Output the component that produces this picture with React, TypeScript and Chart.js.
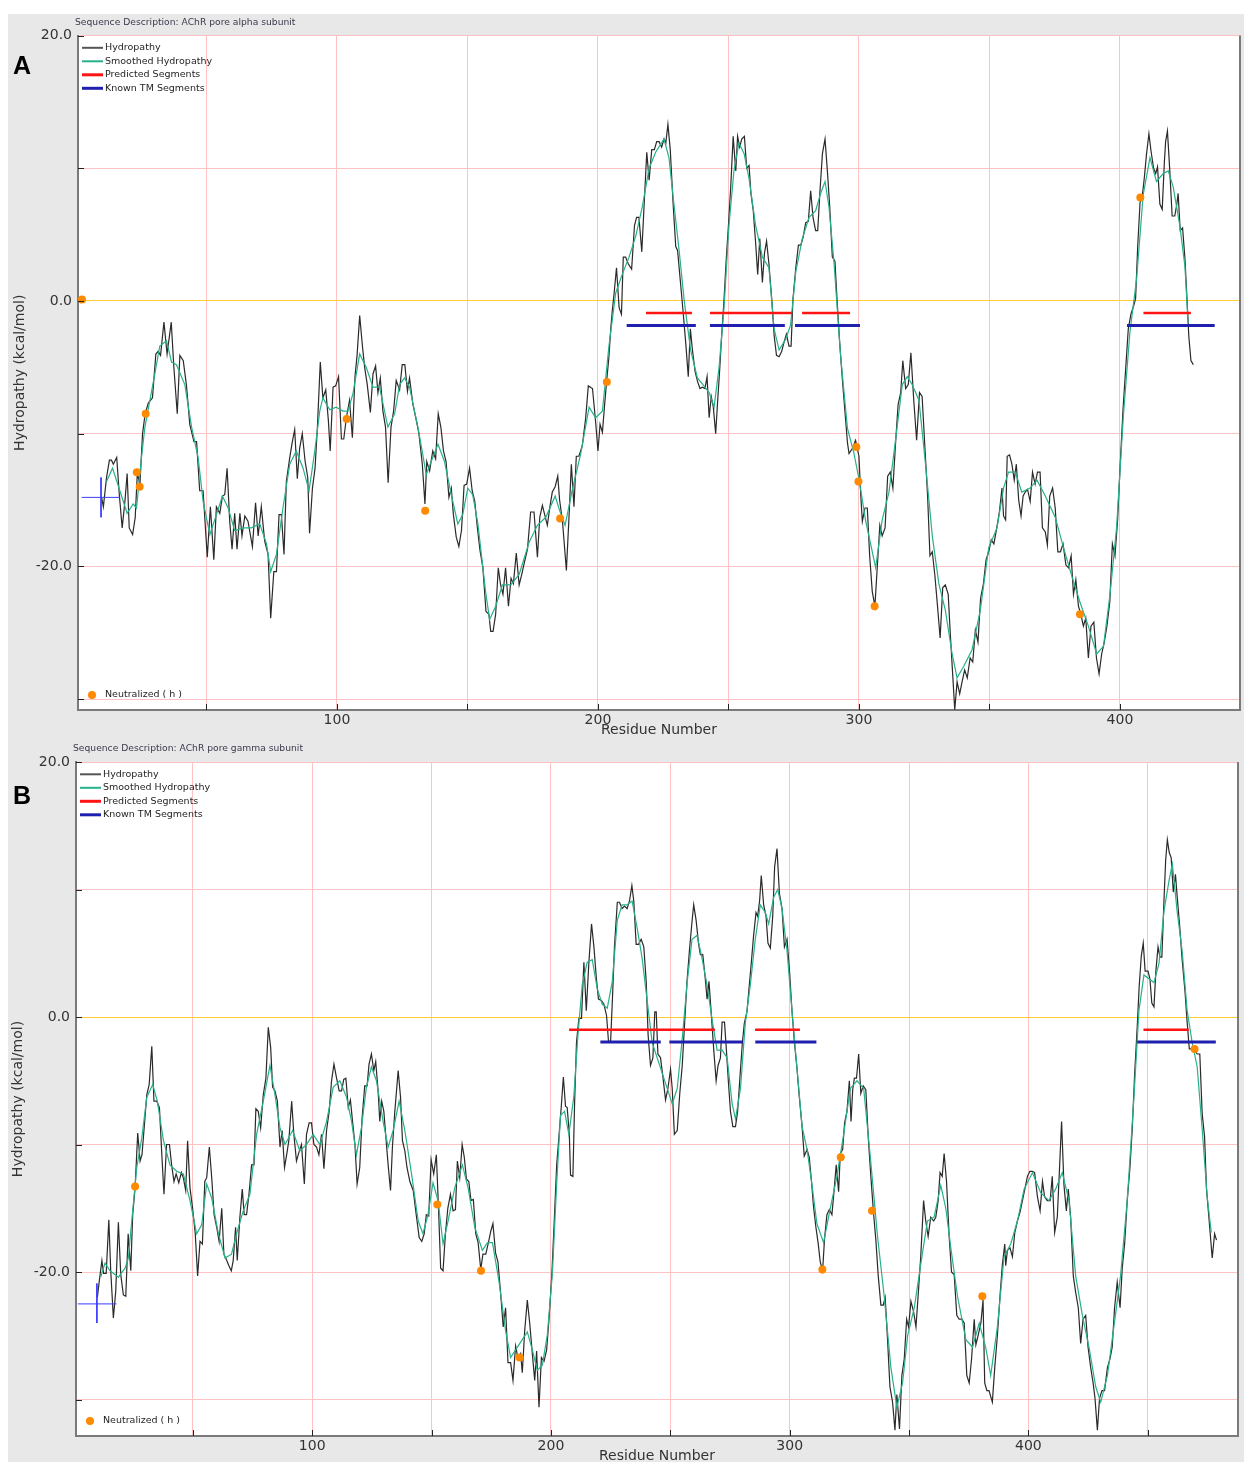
import React, { useEffect, useRef } from 'react';
import { Chart, registerables } from 'chart.js';

Chart.register(...registerables);

type Pt = [number, number];

// ---------------- Panel A: AChR pore alpha subunit ----------------
const ALPHA_HYDROPATHY: Pt[] = [
  [9.8,-14.8],[10.5,-15.5],[11.7,-13.3],[12.8,-12],[13.6,-12],[14.3,-12.3],[15.6,-11.8],[16.6,-14.6],[17.7,-17.1],[18.8,-15],
  [19.6,-13],[20.4,-17.1],[21.7,-17.6],[22.7,-16.3],[23.5,-13],[24.5,-13.8],[25.5,-10],[26.5,-8.5],[27.7,-7.7],[29.3,-7.3],
  [30.6,-4],[31.5,-3.8],[32.4,-4.1],[33.7,-1.6],[34.9,-4],[36.5,-1.6],[37.5,-5],[38.8,-8.5],[39.8,-4.1],[41.1,-4.5],
  [42.3,-6.3],[43.6,-9.3],[45.2,-10.6],[46.2,-10.6],[47.4,-14.3],[48.7,-14.3],[50.3,-19.3],[51.5,-15.5],[52.8,-19.5],[53.8,-15.5],
  [55.1,-16],[56.1,-14.7],[57,-14.6],[57.9,-12.6],[58.9,-16.6],[59.8,-18.7],[60.8,-16],[61.7,-18.7],[62.8,-16],[63.6,-17.7],
  [64.7,-16.2],[65.9,-16.6],[67.6,-18.5],[68.8,-15.2],[69.8,-17.7],[71,-15.5],[72.3,-18.1],[73.6,-19.1],[74.6,-23.9],[75.8,-20.4],
  [76.8,-20.4],[77.8,-16.1],[78.7,-16.1],[79.7,-19.1],[80.6,-13.6],[81.9,-11.8],[82.9,-10.6],[83.8,-9.7],[84.8,-13.4],[85.7,-11.1],
  [86.7,-10],[87.8,-12.1],[88.8,-13.3],[89.5,-17.5],[90.6,-14.1],[91.6,-12.6],[92.5,-9.5],[93.6,-4.6],[94.6,-7.3],[95.7,-6.7],
  [96.7,-9],[97.4,-11.3],[98.5,-6.5],[99.5,-6.4],[100.6,-5.7],[101.7,-10.4],[102.6,-10.4],[103.6,-8.8],[104.8,-7.5],[105.9,-10.3],
  [106.9,-5.7],[107.7,-4.1],[108.7,-1.1],[109.7,-3.3],[110.6,-5],[111.6,-6.3],[112.8,-8.4],[113.8,-5.5],[114.8,-4.9],[115.7,-6.9],
  [116.6,-5.8],[117.6,-8.3],[118.6,-9.5],[119.6,-13.7],[120.7,-9.5],[121.7,-8.3],[122.7,-6],[124,-6.7],[125,-4.8],[126,-4.8],
  [127,-6.8],[127.8,-5.8],[129.1,-7.8],[130.4,-9],[131.4,-10],[132.7,-12.3],[133.7,-15.3],[134.4,-12.1],[135.5,-12.8],[136.7,-11.3],
  [137.8,-11.9],[138.8,-8.5],[139.8,-9.5],[140.8,-11.3],[141.8,-12.1],[142.9,-14.8],[143.8,-14.1],[144.6,-16.1],[145.7,-17.8],[146.7,-18.5],
  [147.7,-17.3],[148.7,-13.9],[149.7,-13.8],[150.8,-12.6],[151.8,-14.3],[152.8,-15.1],[153.8,-17.1],[154.8,-18.8],[155.9,-20.1],[157.1,-23.4],
  [158.2,-23.6],[158.9,-24.9],[159.8,-24.9],[160.8,-23.6],[161.8,-20.1],[162.7,-21.4],[163.6,-22.1],[164.6,-20.1],[165.7,-23],[166.7,-20.9],
  [167.6,-21.3],[168.7,-19],[169.8,-21.4],[170.8,-20.6],[171.7,-19.8],[173,-18.7],[174.2,-15.9],[175.5,-15.9],[176.8,-19.3],[177.7,-16.3],
  [178.7,-15.4],[179.7,-16.2],[180.6,-16.9],[181.6,-15.5],[182.5,-14.4],[183.6,-14],[184.6,-13.2],[185.3,-15],[186.4,-16.6],[187.9,-20.3],
  [188.9,-16.3],[189.8,-12.3],[190.8,-15.5],[191.7,-11.7],[192.7,-11.7],[194,-10.9],[195.3,-8.8],[196.3,-6.4],[197.9,-6.6],[199.1,-9.1],
  [200,-11.3],[200.8,-9.3],[201.7,-9.9],[202.6,-7.7],[203.3,-6.1],[204.2,-4.2],[204.9,-2.1],[205.5,-0.7],[206.2,0.6],[207.1,2.5],
  [208.1,-0.5],[209,-1],[209.7,3.3],[210.6,3.3],[211.6,2.8],[212.9,2.4],[214,5.7],[214.8,6.3],[215.7,6.3],[216.8,3.7],
  [217.7,7.3],[218.7,11.2],[219.6,9.1],[220.6,11.4],[221.6,11.4],[222.5,12],[223.4,12],[224.4,11.6],[225.3,12.2],[226,11.9],
  [226.8,13.3],[227.7,11.4],[228.8,7.3],[229.8,4.1],[230.5,3.8],[231.7,1.2],[232.7,-1],[233.6,-3.1],[234.6,-5.7],[235.4,-2.1],
  [236.2,-3.7],[237.2,-5.3],[238.2,-6.1],[239.1,-6.6],[240,-6.5],[241,-6.6],[241.8,-5.7],[242.6,-8.8],[243.4,-7.2],[244.2,-8],
  [245.1,-10],[245.9,-7.4],[246.6,-5.3],[247.4,-2.6],[248.3,0.1],[249.2,3.3],[250,5.7],[250.9,8.7],[251.8,12.4],[252.8,9.8],
  [253.5,12.4],[254.3,11.6],[255.1,12.2],[256.1,12.4],[257,10],[257.9,10.2],[258.6,8.1],[259.5,6.8],[260.4,4.4],[261.2,2],
  [262,4.7],[263,1.4],[263.8,3.6],[264.6,4.5],[265.5,2.8],[266.6,0.1],[267.5,-2.6],[268.4,-4.1],[269.4,-4.2],[270.4,-3.8],
  [271.3,-3.1],[272.2,-2.5],[273.2,-3.4],[274,-3.4],[274.7,0.1],[275.8,2.5],[276.8,4.2],[277.7,4.2],[278.6,4.8],[279.6,5.9],
  [280.6,6],[281.5,8.3],[282.4,6.3],[283.4,5.3],[284.2,5.3],[285.1,8.4],[286,11.1],[287,12.2],[287.9,9.8],[288.8,7.1],
  [289.8,3.3],[290.8,3],[291.6,0.1],[292.6,-3.1],[293.6,-5.8],[294.7,-8.5],[295.6,-10.7],[296.2,-11.5],[297.5,-11.1],[298.7,-10.5],
  [300,-11.7],[300.7,-14.7],[301.3,-16.6],[302.3,-15.6],[303.2,-15.6],[304.1,-19.2],[305.1,-21.9],[306.1,-23],[307,-20.1],[308,-16.9],
  [308.9,-17.7],[310,-17.1],[311,-13.2],[312,-12.9],[313,-14.1],[314,-10.8],[315,-7.8],[316,-6.9],[316.8,-4.5],[317.9,-6.6],
  [318.9,-6.3],[319.9,-3.9],[321,-7.5],[322.1,-10.5],[323.2,-6.9],[324.2,-7.2],[325.2,-10.8],[326.3,-14.7],[327.2,-19.2],[328.1,-18.9],
  [329.1,-20.7],[330.1,-23],[331.1,-25.4],[332.1,-21.6],[333.1,-21.4],[334.2,-22.1],[335,-25.1],[335.9,-28.1],[336.7,-30.8],[337.6,-28.7],
  [338.6,-29.6],[339.5,-28.7],[340.5,-27.8],[341.5,-28.4],[342.6,-26.9],[343.6,-27.2],[344.6,-24.8],[345.6,-25.7],[346.6,-22.4],[347.7,-21.3],
  [348.7,-19.5],[349.7,-18.9],[350.7,-18],[351.7,-18.3],[352.8,-17.1],[353.8,-15.9],[354.8,-14.1],[355.4,-16.2],[356.2,-16.5],[356.8,-11.7],
  [357.7,-11.6],[358.6,-12.3],[359.5,-13.5],[360.3,-12.3],[361.2,-15],[362.1,-16.2],[362.9,-14.7],[363.7,-14.4],[364.6,-14.2],[365.6,-15.1],
  [366.5,-12.9],[367.5,-13.8],[368.4,-12.9],[369.4,-12.9],[370.3,-17.1],[371.4,-17.4],[372.2,-18.4],[373.1,-14.7],[374.2,-14.1],[375.2,-15.6],
  [376.2,-18.9],[377.2,-18.9],[378.2,-18.3],[379.3,-19.9],[380.3,-20.1],[381.3,-19.2],[382.2,-22.1],[383.1,-21],[384.1,-23],[385,-23.6],
  [386,-24.5],[386.9,-23.9],[387.9,-26.9],[388.9,-24.5],[390,-24.2],[391,-26.9],[392,-28.1],[393,-26.6],[394,-25.7],[395,-24.5],
  [396.1,-22.7],[397.1,-18.3],[398.1,-19.2],[399.1,-16.5],[400.1,-12.3],[401.2,-8.1],[402.2,-5.1],[403.2,-2.1],[404.2,-1],[405.2,-0.4],
  [406,0.2],[406.8,4.1],[407.7,7.4],[408.6,8],[409.3,9.2],[410.2,11.1],[411.1,12.6],[411.9,11.3],[412.9,10],[413.7,9.6],
  [414.4,10.1],[415.3,7.3],[416.2,6.9],[417,10.4],[417.5,12],[418.2,12.8],[419.1,9.8],[420,6.4],[421,6.4],[421.8,7.3],
  [422.3,8.1],[423.1,5.3],[424,5.5],[424.9,3.2],[425.6,0.5],[426.4,-2.7],[427.2,-4.5],[428.1,-4.8]
];

const ALPHA_SMOOTHED: Pt[] = [
  [11.7,-13.6],[14,-12.6],[16.8,-14.3],[19.6,-16],[21.9,-15.3],[23.2,-15.6],[25.1,-11.8],[26.4,-9.5],[28.3,-7.5],[30.2,-5.5],
  [32.1,-3.4],[34.7,-3],[36.6,-4.6],[38.5,-4.8],[41.7,-6.3],[44.3,-9.5],[46.8,-11.8],[48.7,-15.1],[51.3,-17.6],[53.8,-16.1],
  [56.1,-14.7],[58.3,-15.6],[60.8,-17.3],[64,-17.1],[67.2,-17.1],[70.4,-16.8],[73,-18.3],[74.6,-20.4],[76.8,-19.1],[79.3,-15.6],
  [81.9,-12.3],[84.4,-11.3],[87,-12.6],[89.3,-14.3],[91.5,-11.3],[93.4,-8.3],[94.6,-7.3],[97.2,-8.2],[99.7,-8],[102.3,-8.3],
  [104.2,-8.3],[106.1,-7],[108.7,-4],[111.2,-5],[113.8,-6.5],[116.3,-6.5],[119.5,-9.5],[122.1,-8.5],[124,-6.3],[125.9,-5.8],
  [127.8,-6.5],[131,-9.5],[132.9,-11.6],[134.2,-13.1],[136.1,-12.1],[138.7,-10.8],[141.2,-12.1],[143.8,-14.6],[146.3,-16.8],[148.2,-16.1],
  [150.1,-14.1],[152,-14.6],[154,-16.8],[157,-22],[158.5,-24],[160.8,-23],[163.4,-21.4],[166.6,-21.4],[169.8,-20.6],[173.6,-18.2],
  [176.8,-16.9],[180,-16.3],[183.6,-14.7],[185.3,-15.8],[187.4,-16.9],[190.2,-14.2],[193.4,-11.5],[196.6,-8],[199.1,-8.8],[201.7,-8.3],
  [204.2,-3.4],[206.8,0.6],[209.3,2],[211.9,3.3],[214.5,4.9],[217,7.1],[219.6,10],[222.1,11.2],[225.3,12.2],[227.2,10.8],
  [229.1,7.3],[231.1,3.8],[233,0.1],[235.5,-3.7],[238.1,-5.8],[240.6,-6.4],[242.6,-6.9],[244.5,-8],[246.4,-5],[248.3,-0.5],
  [250.2,5.7],[252.1,9.8],[254,11.9],[256,11.1],[257.9,9.2],[260.4,5.7],[263,3.3],[265.5,2.5],[267.5,-2.1],[269.4,-3.7],
  [271.9,-2.9],[273.8,-1.8],[275.8,2.2],[278.3,4.7],[280.9,6.3],[283.4,6.8],[285.3,8.1],[287,9],[288.5,7.1],[290.4,3],
  [293,-4.2],[295.6,-9.6],[298.1,-11.5],[300,-13.4],[302.6,-16.6],[303.8,-17.7],[306.4,-20.1],[308.9,-16.5],[311.5,-14.4],[314,-10.5],
  [316.6,-6.3],[318.5,-5.7],[320.4,-6.3],[323,-7.5],[325.5,-12.3],[328.1,-17.7],[330.6,-21.3],[333.1,-23.3],[335.7,-26.6],[337.6,-28.4],
  [340.2,-27.5],[343.3,-26.3],[346.5,-23.3],[349.7,-18.6],[352.9,-17.1],[355.4,-14.1],[357.3,-12.9],[359.9,-12.9],[362.4,-14.4],[365.6,-14.1],
  [368.2,-13.5],[371.4,-14.7],[375.2,-16.3],[378.4,-18.6],[381.5,-20.7],[384.7,-22.7],[387.9,-24.5],[391.1,-26.6],[393.7,-26],[396.2,-22.1],
  [398.7,-17.1],[401.3,-8.7],[403.8,-2.4],[406.4,1.7],[408.9,8],[411.5,10.8],[414,9],[416.6,9.6],[418.5,9.8],[420.4,8.6],
  [423,5.6],[424.9,2.6],[426.1,-1.6]
];

const ALPHA_PREDICTED: Pt[] = [[218.4, 236], [242.9, 274.3], [278.2, 296.6], [409, 427.2]];
const ALPHA_KNOWN_TM: Pt[] = [[211, 237.5], [242.9, 271.6], [275.5, 300.4], [402.7, 436.3]];
const ALPHA_NEUTRALIZED: Pt[] = [
  [2.3, 0.1], [23.3, -12.9], [24.4, -14], [26.7, -8.5], [103.7, -8.9], [133.8, -15.8], [185.5, -16.4],
  [203.4, -6.1], [299, -11], [299.8, -13.6], [306, -23], [384.7, -23.6], [407.8, 7.8]
];

// ---------------- Panel B: AChR pore gamma subunit ----------------
const GAMMA_HYDROPATHY: Pt[] = [
  [10,-22],[10.8,-20.7],[11.9,-19.1],[12.6,-20.1],[13.7,-20.1],[14.8,-15.9],[15.6,-19.9],[16.7,-23.6],[17.7,-21.5],[18.8,-16.1],
  [19.8,-20.2],[20.9,-21.8],[21.9,-21.9],[22.9,-17],[24,-19.9],[24.8,-15.5],[25.8,-13.4],[26.9,-9.1],[27.9,-11.3],[28.7,-10.8],
  [29.6,-8.7],[30.7,-6.1],[31.7,-5.3],[32.8,-2.3],[33.7,-6.6],[34.9,-6.6],[36,-7.1],[37,-10.8],[37.9,-13.9],[39,-10],
  [40.2,-10],[41.1,-11.6],[42.1,-12.9],[43,-12.3],[44.1,-13],[45.2,-12.2],[46,-12.6],[47,-13.6],[47.8,-9.7],[48.8,-13.4],
  [49.9,-15],[51,-17],[52,-20.3],[53,-17.6],[54,-17.8],[55,-12.9],[55.8,-12.6],[56.9,-10.2],[57.9,-12.6],[58.9,-15.5],
  [60,-16.5],[61,-17.6],[62.1,-15],[63,-18.6],[64.2,-19.1],[65.1,-19.5],[66.1,-19.9],[66.9,-19.1],[67.9,-16.5],[68.6,-19.1],
  [69.7,-15.7],[70.7,-13.5],[71.5,-15.5],[72.5,-15.5],[73.5,-13.9],[74.6,-11.6],[75.6,-11.6],[76.4,-7.2],[77.4,-7.4],[78.4,-8.7],
  [79.5,-6.1],[80.6,-4.8],[81.6,-0.8],[82.6,-2.4],[83.4,-5.5],[84.4,-5.8],[85.4,-6.6],[86.5,-10.2],[87.4,-8.9],[88.4,-11.8],
  [89.3,-10.8],[90.2,-9.7],[91.4,-6.6],[92.3,-9.2],[93.4,-11.3],[94.6,-10.5],[95.5,-10],[96.7,-13.1],[97.6,-9.2],[98.7,-8.3],
  [99.7,-8.3],[100.7,-10],[101.8,-10.2],[102.8,-10.8],[103.9,-9.2],[104.9,-11.9],[106,-8.9],[107.1,-7.4],[108.1,-5],[109.1,-3.7],
  [110.2,-4.8],[111.3,-5.8],[112.3,-5.8],[113.2,-4.9],[114.1,-4.8],[115.1,-7.1],[116,-6.5],[116.9,-8.2],[117.9,-10],[118.8,-13.1],
  [119.9,-11.8],[120.9,-7.9],[122,-5.4],[123,-5.4],[123.8,-3.7],[124.8,-2.9],[125.8,-4.2],[126.6,-3.5],[127.6,-5.8],[128.3,-8.2],
  [129.1,-6.6],[130,-7.4],[131.1,-10],[131.9,-11.8],[132.8,-13.6],[133.6,-10.2],[134.6,-7.4],[135.3,-5.8],[136,-4.2],[137,-6.3],
  [137.8,-9.7],[138.8,-10.5],[139.7,-11.8],[140.9,-12.9],[142.3,-13.6],[143.7,-15.7],[144.8,-17.3],[145.9,-17.6],[146.9,-17],[147.8,-15.5],
  [148.8,-15.6],[149.8,-11.2],[150.9,-12.3],[152,-10.8],[152.9,-15],[153.8,-19.7],[154.8,-19.9],[155.8,-17],[156.8,-15],[157.9,-13.9],
  [159,-15.2],[160,-15.1],[160.8,-11.3],[161.8,-12.6],[162.8,-10],[163.7,-11],[164.6,-12.7],[165.6,-12.9],[166.5,-14.4],[167.5,-14.3],
  [168.5,-17],[169.5,-17.7],[170.6,-19.8],[171.5,-18.6],[172.7,-18.6],[173.8,-17.7],[174.8,-16.8],[175.7,-16.2],[176.8,-18.5],[177.8,-19.2],
  [178.9,-21.6],[180,-24.3],[181,-22.8],[182,-27.1],[183.1,-27.1],[184.1,-28.5],[185.2,-25.8],[186.2,-26.8],[187.3,-26.4],[188,-27.9],
  [189,-24.6],[190.1,-22.2],[191.1,-24],[192.2,-26.4],[193.2,-28.5],[194,-26.2],[195,-30.6],[196,-26.7],[197.1,-27],[198.2,-26.1],
  [199.3,-23.4],[200.4,-20.1],[201.5,-15.5],[202.4,-11.6],[203.3,-9.5],[204.3,-7.1],[205.2,-4.7],[206.1,-7],[206.8,-7.1],[207.7,-9.2],
  [208.2,-12.4],[209.2,-12.5],[209.9,-6.8],[210.7,-2],[211.7,-0.1],[212.8,-0.1],[213.8,4.3],[214.8,0.5],[215.9,4.3],[217,7.3],
  [218,5.5],[219,3.1],[219.9,1.4],[221.1,1.3],[222.2,1],[223.3,0.1],[224.1,-1.9],[225,-1.9],[225.8,1.6],[226.6,5.5],
  [227.8,9],[228.7,9],[229.8,8.5],[230.8,8.7],[231.9,8.5],[232.9,9.1],[233.9,10.3],[234.7,9.1],[235.7,5.7],[236.7,5.7],
  [237.8,6.1],[238.9,5.5],[239.9,2.8],[240.7,-1.4],[241.7,-3.8],[242.7,-3.2],[243.5,0.4],[244.1,0.4],[244.8,-2.9],[245.9,-3.2],
  [246.9,-4.7],[248,-6.5],[249,-5.6],[250.1,-4.1],[250.8,-5.6],[251.7,-9.2],[252.9,-8.9],[254,-5.9],[255,-3.8],[255.9,-0.8],
  [257,2.8],[258,5.2],[259,7.3],[259.8,8.8],[260.8,7.6],[261.8,5.8],[262.6,4.9],[263.6,4.9],[264.6,3.1],[265.4,1.4],
  [266.2,2.8],[267.1,0.4],[268.2,-2.6],[269.2,-5],[270,-3.8],[271,-3.2],[271.7,-0.4],[272.7,-0.4],[273.5,-2.6],[274.3,-5],
  [275.2,-7.4],[276.2,-8.6],[277.3,-8.6],[278.2,-7.4],[279.4,-4.1],[280.2,-2],[281,-0.5],[282.1,0.4],[283.1,2.5],[283.9,4.2],
  [284.9,6.4],[285.9,8.2],[286.6,7.9],[287.4,9.1],[288.1,11.1],[289.1,8.8],[290.1,7.9],[290.9,5.8],[291.9,5.4],[292.9,7.9],
  [293.7,11.8],[294.7,13.2],[295.7,9.7],[296.8,8.5],[297.8,5.5],[298.9,6.1],[300,3.4],[301,0.4],[302,-2],[303.1,-4.1],
  [304,-6.2],[305.2,-8.6],[306.1,-10.9],[307.3,-10.4],[308.2,-11],[309.1,-12.8],[310,-14.9],[311,-16.5],[311.9,-17.7],[312.8,-19.2],
  [313.8,-19.9],[314.6,-17.4],[315.6,-15.5],[316.6,-15.1],[317.7,-15.5],[318.7,-13.4],[319.5,-11.6],[320.5,-13.7],[321.2,-10.7],[322.2,-10.4],
  [323,-8.3],[324,-7.4],[325,-5],[325.7,-8.2],[326.4,-5.7],[327.1,-4.8],[328,-4.8],[328.9,-2.9],[329.8,-6],[330.8,-5.4],
  [331.9,-5.7],[332.9,-9.4],[334,-12.5],[335.1,-15.3],[336.1,-17.5],[337.1,-20.3],[338.2,-22.6],[339.2,-22.6],[340,-22],[341,-25.3],
  [342,-29],[343.1,-30.2],[344.1,-32.4],[344.9,-29.6],[346,-32.3],[347,-28.1],[348,-26.8],[349,-23.7],[349.8,-24.3],[350.8,-22.3],
  [351.9,-23.1],[352.9,-24.3],[353.8,-21.9],[354.9,-18.8],[356.1,-14.4],[357,-16],[358,-17.2],[359.1,-15.7],[360.3,-16],[361.2,-15.7],
  [362.2,-14.4],[363,-12.2],[363.9,-12.5],[364.7,-10.7],[365.7,-12.9],[366.8,-17.2],[367.8,-20],[368.9,-20.2],[370,-23.4],[371,-23.7],
  [372.1,-23.7],[373.1,-24],[374.2,-28.1],[375.2,-28.7],[376.2,-26.8],[377.3,-23.7],[378,-25.7],[378.9,-25],[380.1,-24],[381,-22.2],
  [381.7,-28.7],[382.6,-29.3],[383.5,-29.3],[384.9,-30.2],[385.9,-27.5],[387,-25],[388.1,-21.9],[389.1,-19.4],[390.1,-17.8],[390.5,-19.5],
  [391.2,-18.3],[392.3,-18.1],[393.3,-18.8],[394.3,-16.9],[395.4,-16],[396.5,-15.3],[397.5,-14.4],[398.5,-13.5],[399.6,-12.5],[400.6,-12.1],
  [401.7,-12.1],[402.6,-12.2],[403.8,-14.1],[404.9,-15.2],[405.9,-12.9],[406.8,-14.1],[407.9,-14.4],[409.1,-14.4],[410,-12.5],[411,-16.9],
  [412.1,-15.7],[413.1,-11.6],[413.9,-8.2],[414.9,-13.2],[415.9,-15.2],[416.7,-13.5],[417.7,-15.7],[418.8,-20.3],[419.8,-21.6],[420.9,-22.8],
  [421.9,-25.6],[422.9,-23.7],[424,-23.4],[425,-25.9],[426.1,-27.5],[427.1,-28.7],[427.9,-29.9],[428.9,-32.4],[429.8,-29.9],[430.8,-29.3],
  [431.9,-29.3],[433.1,-27.5],[434.2,-26.8],[435.1,-25.9],[436.1,-22.8],[437.2,-20.8],[438.4,-22.8],[439.3,-19.7],[440.3,-17.8],[441.4,-14.4],
  [442.5,-11.9],[443.5,-8.8],[444.5,-4.5],[445.6,-0.7],[446.4,2.4],[447.3,4.8],[448.1,5.8],[448.9,3.6],[450.1,3.6],[450.9,3],
  [451.7,1.1],[452.6,0.8],[453.4,3.6],[454.3,5.5],[455.1,4.7],[455.9,4.7],[456.8,9.2],[457.5,12.3],[458.2,13.9],[459,12.9],
  [459.8,12.5],[460.7,9.8],[461.6,11.2],[462.3,9.5],[463.3,7.3],[464.4,4.5],[465.6,2],[466.5,-0.4],[467.4,-2.5],[468.5,-2.5],
  [469.6,-2.6],[470.7,-2.9],[471.8,-2.9],[472.8,-7.6],[473.8,-9.4],[474.6,-13.5],[475.6,-15.7],[477,-18.9],[478,-17],[478.8,-17.5]
];

const GAMMA_SMOOTHED: Pt[] = [
  [11.4,-20.4],[13.2,-19.3],[15.3,-19.9],[18.8,-20.4],[21.6,-19.7],[23,-18.9],[24.4,-16],[26.5,-11.8],[28.6,-9.5],[30.7,-6.3],
  [33.2,-5.3],[35.1,-6.6],[37.7,-9.7],[40.4,-11.6],[43.2,-12.1],[46,-12.3],[48.8,-14.4],[51.6,-17],[53.7,-16.3],[55.8,-13.1],
  [57.9,-14.2],[60.7,-17],[63.5,-18.9],[66.2,-18.6],[68.3,-17],[71.1,-15.2],[73.9,-13.9],[76.7,-9.2],[79.5,-6.6],[82.3,-3.8],
  [84.4,-6.1],[86.5,-8.7],[88.6,-10],[91.8,-8.9],[94.8,-10.5],[97.6,-10],[100.4,-9.2],[103.2,-10],[106,-8.2],[108.8,-5.5],
  [111.6,-5],[114.4,-6.3],[116.5,-8.2],[118.5,-10.8],[120.6,-8.7],[122.7,-5.5],[124.8,-3.9],[126.9,-5],[129.7,-8.2],[131.8,-10.2],
  [133.9,-8.9],[136.4,-6.6],[138.8,-8.9],[141.6,-12.3],[144.4,-16],[146.4,-17],[148.5,-15.5],[150.6,-13],[152.7,-14.4],[154.8,-17.8],
  [156.9,-16],[159.7,-13.4],[162.9,-11.6],[165.3,-13.4],[168.1,-16.5],[171.3,-18.3],[173.4,-17.7],[175.5,-17.7],[178.2,-20.7],[181,-24.6],
  [183.1,-26.7],[185.2,-26.1],[187.3,-25.5],[190.1,-24.7],[192.2,-26.1],[194.3,-27.7],[196.4,-27.3],[198.5,-24.9],[200.6,-20.1],[202.4,-13.1],
  [204,-7.7],[205.7,-7.4],[207.5,-9.2],[209.6,-6.2],[211.3,-1.4],[213.1,2.5],[215.2,4.3],[217.3,4.5],[219.4,2.2],[221.5,1],
  [223.6,0.7],[225.7,2.8],[227.8,7.6],[229.8,8.8],[231.9,8.8],[234,9.1],[236.1,7],[238.2,4.6],[240.3,1.3],[242.4,-2],
  [244.5,-3.2],[246.6,-4.4],[248.7,-5.6],[250.8,-6.8],[252.9,-5.6],[255,-1.7],[257.1,2.8],[259.1,6.1],[261.2,6.4],[263.3,4.6],
  [265.4,2.5],[267.5,-0.2],[269.6,-2.6],[271.7,-2.6],[273.8,-3.2],[275.9,-6.8],[277.3,-8],[279.4,-5.6],[281.4,-0.5],[283.5,2.5],
  [285.6,6.1],[287.7,8.8],[289.8,8.2],[291.2,7.3],[293.3,9.4],[295,10],[296.8,8.5],[298.9,5.2],[301,0.4],[303.1,-4.1],
  [305.2,-8.6],[307.3,-10.4],[309.3,-13.1],[311.4,-16.2],[314.2,-17.7],[317,-15],[319.8,-12.5],[322.6,-9.2],[325.4,-5.6],[328.2,-5],
  [331,-5.6],[333.8,-11],[336.8,-17.2],[339.6,-21.9],[342.4,-27.5],[344.9,-30.6],[347.3,-28.7],[349.4,-25],[352.2,-22.8],[354.9,-19.4],
  [357.7,-16],[360.5,-15.7],[363.3,-13.2],[365.4,-15],[367.5,-18.1],[370.3,-21.9],[373.8,-25.3],[376.6,-25.9],[379.4,-24],[382.1,-25.9],
  [384.2,-28.1],[387,-24.3],[389.8,-18.8],[392.6,-17.8],[395.4,-16],[398.2,-13.5],[401.7,-12.2],[405.2,-13.8],[408.6,-14.4],[411.4,-13.5],
  [414.2,-12.2],[417,-14.4],[419.8,-20.3],[422.6,-23.4],[425.4,-25.9],[428.2,-29],[430.3,-30.2],[433.1,-28.1],[435.8,-24.3],[438.6,-20.3],
  [441.4,-14.4],[444.2,-6.3],[446.3,0.5],[448.4,3.3],[450.5,3],[452.6,2.7],[454.7,4.2],[456.8,8.3],[458.9,10.7],[460.3,12],
  [462.3,8.3],[464.4,5.2],[466.5,0.5],[468.6,-2],[470.7,-3.9],[472.8,-8.8],[474.9,-14.1],[476.6,-16.9]
];

const GAMMA_PREDICTED: Pt[] = [[207.6, 268.7], [285.5, 304.3], [448.2, 467.2]];
const GAMMA_KNOWN_TM: Pt[] = [[220.7, 246], [249.6, 280.4], [285.6, 311.2], [445.6, 478.5]];
const GAMMA_NEUTRALIZED: Pt[] = [
  [25.8, -13.3], [152.4, -14.7], [170.7, -19.9], [186.9, -26.7], [313.7, -19.8],
  [321.4, -11], [334.5, -15.2], [380.7, -21.9], [469.6, -2.5]
];

// legend / labels
const LEGEND_LABELS = ['Hydropathy', 'Smoothed Hydropathy', 'Predicted Segments', 'Known TM Segments'];
const NEUTRAL_LABEL = 'Neutralized ( h )';
const X_TITLE = 'Residue Number';
const Y_TITLE = 'Hydropathy (kcal/mol)';

const C_HYDRO = '#2a2a2a';
const C_SMOOTH = '#26b08c';
const C_PRED = '#ff1414';
const C_KNOWN = '#2020b0';
const C_NEUT = '#ff8a00';
const C_CROSS = '#3a3aff';
const C_GRID = '#ffc2c2';
const C_ZERO = '#ffcc33';
const C_AXIS = '#7a7a7a';

interface PanelDef {
  letter: string;
  description: string;
  top: number;
  hydro: Pt[];
  smooth: Pt[];
  predicted: Pt[];
  known: Pt[];
  predY: number;
  knownY: number;
  neutral: Pt[];
  cross: { x1: number; x2: number; y: number; xv: number; y1: number; y2: number };
  xMin: number;
  xMax: number;
  yMin: number;
  yMax: number;
  yAxisWidth: number;
  padRight: number;
  padTop: number;
  yTitlePad: number;
  descLeft: number;
  letterTop: number;
}

const PANELS: PanelDef[] = [
  {
    letter: 'A',
    description: 'Sequence Description: AChR pore alpha subunit',
    top: 14,
    hydro: ALPHA_HYDROPATHY,
    smooth: ALPHA_SMOOTHED,
    predicted: ALPHA_PREDICTED,
    known: ALPHA_KNOWN_TM,
    predY: -0.9,
    knownY: -1.85,
    neutral: ALPHA_NEUTRALIZED,
    cross: { x1: 2.2, x2: 16.9, y: -14.8, xv: 9.6, y1: -13.3, y2: -16.3 },
    xMin: 0.77,
    xMax: 446,
    yMin: -30.82,
    yMax: 20,
    yAxisWidth: 70,
    padRight: 4,
    padTop: 21.5,
    yTitlePad: 5,
    descLeft: 67,
    letterTop: 39,
  },
  {
    letter: 'B',
    description: 'Sequence Description: AChR pore gamma subunit',
    top: 740,
    hydro: GAMMA_HYDROPATHY,
    smooth: GAMMA_SMOOTHED,
    predicted: GAMMA_PREDICTED,
    known: GAMMA_KNOWN_TM,
    predY: -1,
    knownY: -1.95,
    neutral: GAMMA_NEUTRALIZED,
    cross: { x1: 1.8, x2: 18, y: -22.5, xv: 9.8, y1: -20.9, y2: -24 },
    xMin: 1.05,
    xMax: 487.8,
    yMin: -32.86,
    yMax: 20,
    yAxisWidth: 68,
    padRight: 6,
    padTop: 22,
    yTitlePad: 3,
    descLeft: 65,
    letterTop: 43,
  },
];

const PANEL_W = 1236;
const PANEL_H = 726;
const FONT = '"DejaVu Sans", "Noto Sans", sans-serif';

const toXY = (pts: Pt[]) => pts.map(([x, y]) => ({ x, y }));
const segData = (segs: Pt[], y: number) =>
  segs.flatMap(([a, b]) => [{ x: a, y }, { x: b, y }, { x: b, y: null as any }]);

function Panel({ def }: { def: PanelDef }) {
  const ref = useRef<HTMLCanvasElement | null>(null);

  useEffect(() => {
    if (!ref.current) return;
    const decor = {
      id: 'decor' + def.letter,
      beforeDraw(chart: any) {
        const { ctx, chartArea: a } = chart;
        ctx.save();
        ctx.fillStyle = '#ffffff';
        ctx.fillRect(a.left, a.top, a.right - a.left, a.bottom - a.top);
        ctx.restore();
      },
      afterDraw(chart: any) {
        const { ctx, chartArea: a, scales } = chart;
        ctx.save();
        // right border
        ctx.strokeStyle = C_AXIS;
        ctx.lineWidth = 2;
        ctx.beginPath();
        ctx.moveTo(a.right, a.top);
        ctx.lineTo(a.right, a.bottom + 1);
        ctx.stroke();
        // inner tick marks
        ctx.strokeStyle = '#222';
        ctx.lineWidth = 1;
        scales.y.ticks.forEach((t: any) => {
          const y = Math.round(scales.y.getPixelForValue(t.value)) + 0.5;
          ctx.beginPath();
          ctx.moveTo(a.left, y);
          ctx.lineTo(a.left + 6, y);
          ctx.stroke();
        });
        scales.x.ticks.forEach((t: any) => {
          const x = Math.round(scales.x.getPixelForValue(t.value)) + 0.5;
          ctx.beginPath();
          ctx.moveTo(x, a.bottom);
          ctx.lineTo(x, a.bottom - 6);
          ctx.stroke();
        });
        // legend
        const colors = [C_HYDRO, C_SMOOTH, C_PRED, C_KNOWN];
        const widths = [2, 2, 3, 3];
        ctx.font = '9.5px ' + FONT;
        ctx.textBaseline = 'middle';
        ctx.textAlign = 'left';
        LEGEND_LABELS.forEach((label, i) => {
          const y = a.top + 12.3 + i * 13.5;
          ctx.strokeStyle = i === 0 ? '#555' : colors[i];
          ctx.lineWidth = widths[i];
          ctx.beginPath();
          ctx.moveTo(a.left + 4, y);
          ctx.lineTo(a.left + 25, y);
          ctx.stroke();
          ctx.fillStyle = '#1e1e1e';
          ctx.fillText(label, a.left + 27, y);
        });
        const ny = a.bottom - 15;
        ctx.fillStyle = C_NEUT;
        ctx.beginPath();
        ctx.arc(a.left + 14, ny, 4, 0, Math.PI * 2);
        ctx.fill();
        ctx.fillStyle = '#1e1e1e';
        ctx.fillText(NEUTRAL_LABEL, a.left + 27, ny);
        ctx.restore();
      },
    };

    const chart = new Chart(ref.current, {
      type: 'line',
      data: {
        datasets: [
          {
            label: LEGEND_LABELS[0],
            data: toXY(def.hydro),
            borderColor: C_HYDRO,
            borderWidth: 1.2,
            pointRadius: 0,
            order: 5,
          },
          {
            label: LEGEND_LABELS[1],
            data: toXY(def.smooth),
            borderColor: C_SMOOTH,
            borderWidth: 1.2,
            pointRadius: 0,
            order: 4,
          },
          {
            label: LEGEND_LABELS[3],
            data: segData(def.known, def.knownY),
            borderColor: C_KNOWN,
            borderWidth: 3,
            pointRadius: 0,
            spanGaps: false,
            order: 3,
          },
          {
            label: LEGEND_LABELS[2],
            data: segData(def.predicted, def.predY),
            borderColor: C_PRED,
            borderWidth: 2.5,
            pointRadius: 0,
            spanGaps: false,
            order: 2,
          },
          {
            label: 'cross',
            data: [
              { x: def.cross.x1, y: def.cross.y },
              { x: def.cross.x2, y: def.cross.y },
              { x: def.cross.x2, y: null as any },
              { x: def.cross.xv, y: def.cross.y1 },
              { x: def.cross.xv, y: def.cross.y2 },
            ],
            borderColor: C_CROSS,
            borderWidth: 1,
            pointRadius: 0,
            spanGaps: false,
            order: 1,
          },
          {
            label: NEUTRAL_LABEL,
            data: toXY(def.neutral),
            showLine: false,
            pointRadius: 4,
            pointBackgroundColor: C_NEUT,
            pointBorderWidth: 0,
            borderColor: C_NEUT,
            order: 0,
          },
        ],
      },
      options: {
        responsive: false,
        animation: false,
        devicePixelRatio: 1,
        events: [],
        layout: { padding: { left: 0, top: def.padTop, right: def.padRight, bottom: 0 } },
        plugins: { legend: { display: false }, tooltip: { enabled: false } },
        elements: { line: { tension: 0 } },
        scales: {
          x: {
            type: 'linear',
            min: def.xMin,
            max: def.xMax,
            afterFit: (s: any) => {
              s.height = PANEL_H - 696;
            },
            ticks: {
              stepSize: 50,
              includeBounds: false,
              autoSkip: false,
              maxRotation: 0,
              padding: 2,
              color: '#333',
              font: { family: FONT, size: 14 },
              callback: (v: any) => (Number(v) % 100 === 0 ? String(v) : ''),
            },
            grid: { color: C_GRID, lineWidth: 1, drawTicks: false },
            border: { color: C_AXIS, width: 2 },
            title: {
              display: true,
              text: X_TITLE,
              color: '#333',
              font: { family: FONT, size: 14, lineHeight: 1 },
              padding: { top: 0, bottom: 3 },
            },
          },
          y: {
            type: 'linear',
            min: def.yMin,
            max: def.yMax,
            afterFit: (s: any) => {
              s.width = def.yAxisWidth;
            },
            ticks: {
              stepSize: 10,
              includeBounds: false,
              padding: 6,
              color: '#333',
              font: { family: FONT, size: 14 },
              callback: (v: any) => (Math.round(Number(v)) % 20 === 0 ? Number(v).toFixed(1) : ''),
            },
            grid: {
              color: (c: any) => (c.tick && c.tick.value === 0 ? C_ZERO : C_GRID),
              lineWidth: 1,
              drawTicks: false,
            },
            border: { color: C_AXIS, width: 2 },
            title: {
              display: true,
              text: Y_TITLE,
              color: '#333',
              font: { family: FONT, size: 14, lineHeight: 1 },
              padding: { top: def.yTitlePad, bottom: 0 },
            },
          },
        },
      },
      plugins: [decor],
    } as any);
    return () => chart.destroy();
  }, [def]);

  return (
    <div
      style={{
        position: 'absolute',
        left: 8,
        top: def.top,
        width: PANEL_W,
        height: PANEL_H,
        background: '#e8e8e8',
      }}
    >
      <canvas ref={ref} width={PANEL_W} height={PANEL_H} style={{ display: 'block', width: PANEL_W, height: PANEL_H }} />
      <div
        style={{
          position: 'absolute',
          left: def.descLeft,
          top: 2,
          font: '9.2px ' + FONT,
          color: '#3a3a4e',
          lineHeight: '12px',
          whiteSpace: 'nowrap',
        }}
      >
        {def.description}
      </div>
      <div
        style={{
          position: 'absolute',
          left: 5,
          top: def.letterTop,
          font: 'bold 25px "Liberation Sans", Arial, sans-serif',
          lineHeight: '25px',
          color: '#000',
        }}
      >
        {def.letter}
      </div>
    </div>
  );
}

export default function App() {
  useEffect(() => {
    document.body.style.margin = '0';
  }, []);
  return (
    <div style={{ position: 'fixed', left: 0, top: 0, width: 1244, height: 1462, overflow: 'hidden', background: '#fff' }}>
      {PANELS.map((p) => (
        <Panel key={p.letter} def={p} />
      ))}
    </div>
  );
}
